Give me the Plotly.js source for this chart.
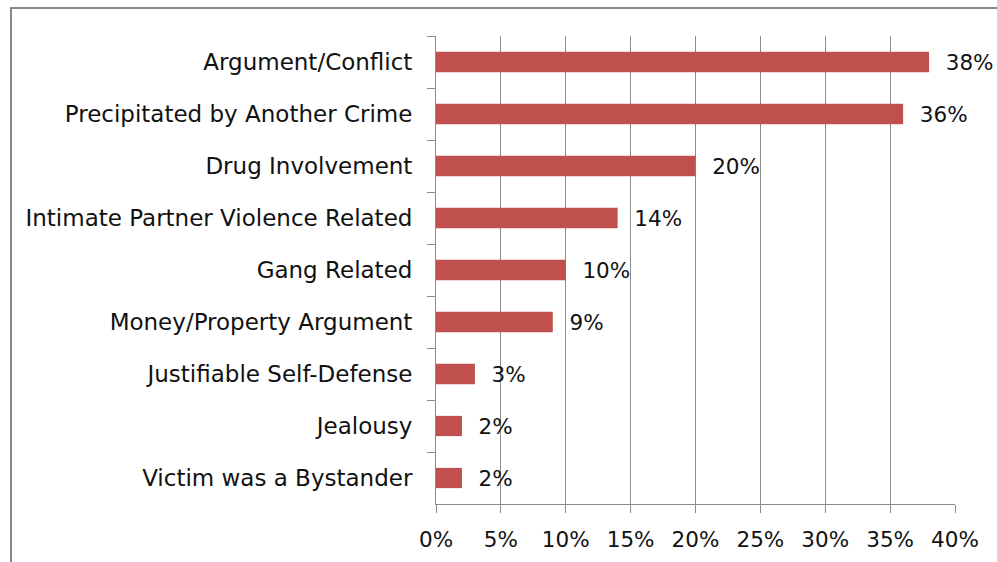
<!DOCTYPE html>
<html>
<head>
<meta charset="utf-8">
<script src="https://cdn.plot.ly/plotly-3.0.1.min.js"></script>
<style>html,body{margin:0;padding:0;background:#fff;}#chart{width:997px;height:562px;}</style>
</head>
<body>
<div id="chart"></div>
<script>
const categories = [
  "Argument/Conflict",
  "Precipitated by Another Crime",
  "Drug Involvement",
  "Intimate Partner Violence Related",
  "Gang Related",
  "Money/Property Argument",
  "Justifiable Self-Defense",
  "Jealousy",
  "Victim was a Bystander"
];
const percentValues = [38, 36, 20, 14, 10, 9, 3, 2, 2];
const xTickValues = [0, 5, 10, 15, 20, 25, 30, 35, 40];
const xTickLabels = ["0%", "5%", "10%", "15%", "20%", "25%", "30%", "35%", "40%"];

const FONT = "DejaVu Sans";
const FS = 23;
const FS_SMALL = 21.5;
const GRID = "#8c8c8c";

const trace = {
  type: "bar",
  orientation: "h",
  x: percentValues,
  y: categories,
  marker: {color: "#C0504D", line: {width: 0}},
  text: percentValues.map(v => "\u00a0\u00a0" + v + "%"),
  textposition: "outside",
  constraintext: "none",
  cliponaxis: false,
  textfont: {family: FONT, size: FS_SMALL, color: "#111"},
  hoverinfo: "none"
};

const W = 997, H = 562;
const L = 436, R = 42, T = 36, B = 58;
const pw = W - L - R, ph = H - T - B;
const px = v => (v - L) / pw;
const py = v => (H - B - v) / ph;

const layout = {
  width: W, height: H,
  margin: {l: L, r: R, t: T, b: B, pad: 0},
  paper_bgcolor: "#fff",
  plot_bgcolor: "#fff",
  showlegend: false,
  bargap: 0.61,
  font: {family: FONT, size: FS, color: "#111"},
  xaxis: {
    range: [0, 40],
    tickvals: xTickValues,
    ticktext: xTickLabels,
    showgrid: true,
    gridcolor: GRID,
    gridwidth: 1,
    zeroline: false,
    showline: true,
    linecolor: GRID,
    linewidth: 1,
    ticks: "outside",
    ticklen: 8,
    tickcolor: GRID,
    ticklabelstandoff: 8,
    tickfont: {family: FONT, size: FS_SMALL, color: "#111"},
    fixedrange: true
  },
  yaxis: {
    type: "category",
    autorange: "reversed",
    showgrid: false,
    zeroline: false,
    showline: true,
    linecolor: GRID,
    linewidth: 1,
    ticks: "outside",
    tickson: "boundaries",
    ticklen: 8,
    tickcolor: GRID,
    ticklabelstandoff: 18,
    tickfont: {family: FONT, size: FS, color: "#111"},
    fixedrange: true
  },
  shapes: [{
    type: "rect", xref: "paper", yref: "paper",
    x0: px(11), x1: px(1010), y0: py(580), y1: py(8),
    line: {color: "#888888", width: 2},
    fillcolor: "rgba(0,0,0,0)",
    layer: "below"
  }]
};

Plotly.newPlot("chart", [trace], layout, {displayModeBar: false, staticPlot: true});
</script>
</body>
</html>
